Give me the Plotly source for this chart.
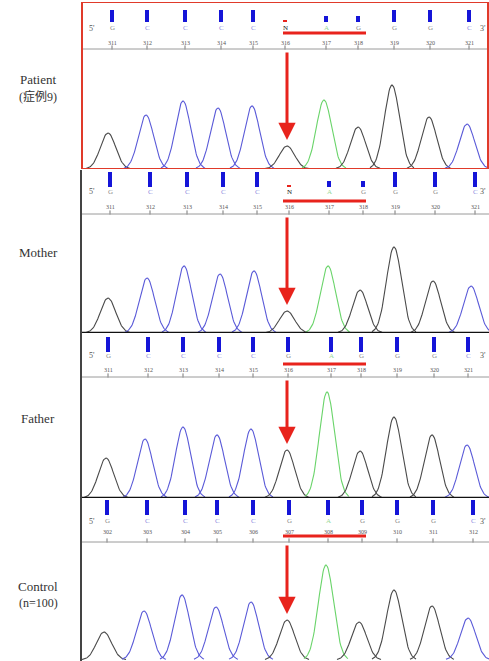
import numpy as np
import plotly.graph_objects as go

FIG_W, FIG_H = 489, 661

# ---------------- data ----------------
panel_names = ["Patient", "Mother", "Father", "Control"]
panel_subs = ["(症例9)", "", "", "(n=100)"]

# base identity of each trace peak (same region in all four samples)
peak_base = ["G", "C", "C", "C", "C", "G", "A", "G", "G", "G", "C"]

# peak scan positions per sample
peak_scan_patient = [108, 146, 183, 218, 252, 287, 324, 358, 392, 429, 467]
peak_scan_mother = [108, 147, 184, 220, 254, 287, 328, 360, 394, 433, 471]
peak_scan_father = [106, 145, 183, 217, 251, 287, 327, 360, 394, 432, 467]
peak_scan_control = [104, 144, 182, 216, 251, 287, 326, 359, 394, 432, 468]

# peak signal heights per sample
peak_h_patient = [36, 54, 68, 61, 63, 23, 69, 42, 84, 52, 45]
peak_h_mother = [35, 55, 67, 59, 62, 22, 67, 43, 86, 52, 47]
peak_h_father = [40, 59, 71, 63, 69, 48, 106, 47, 81, 63, 53]
peak_h_control = [28, 49, 65, 53, 58, 40, 95, 38, 70, 54, 42]

# base-call scan positions per sample
call_scan_patient = [112, 147, 185, 221, 253, 285, 326, 358, 394, 430, 469]
call_scan_mother = [110, 150, 187, 223, 257, 289, 329, 363, 395, 435, 475]
call_scan_father = [108, 148, 183, 219, 253, 288, 331, 361, 397, 434, 468]
call_scan_control = [107, 147, 185, 217, 253, 289, 328, 362, 397, 433, 473]

# base calls per sample
calls_patient = ["G", "C", "C", "C", "C", "N", "A", "G", "G", "G", "C"]
calls_mother = ["G", "C", "C", "C", "C", "N", "A", "G", "G", "G", "C"]
calls_father = ["G", "C", "C", "C", "C", "G", "A", "G", "G", "G", "C"]
calls_control = ["G", "C", "C", "C", "C", "G", "A", "G", "G", "G", "C"]

# quality values per call
qual_patient = [12, 12, 12, 12, 12, 2, 6, 6, 12, 12, 12]
qual_mother = [15, 15, 15, 15, 15, 2, 6, 6, 15, 15, 15]
qual_father = [15, 15, 15, 15, 15, 15, 15, 15, 15, 15, 15]
qual_control = [15, 15, 15, 15, 15, 15, 15, 15, 15, 15, 15]

# base numbering
pos_labels_patient = ["311", "312", "313", "314", "315", "316", "317", "318", "319", "320", "321"]
pos_labels_mother = ["311", "312", "313", "314", "315", "316", "317", "318", "319", "320", "321"]
pos_labels_father = ["311", "312", "313", "314", "315", "316", "317", "318", "319", "320", "321"]
pos_labels_control = ["302", "303", "304", "305", "306", "307", "308", "309", "310", "311", "312"]

mutation_index = 5            # position 316 (307 in control numbering)
deleted_span = (283, 366)     # scan span of the underlined triplet

# ---------------- styles / layout ----------------
dye_color = {"G": "#4a4a4a", "C": "#5a5ad8", "A": "#6ad46a", "T": "#e03030", "N": "#000000"}
letter_color = {"G": "#8a8a8a", "C": "#8a8ae0", "A": "#9ad89a", "T": "#e07070", "N": "#111111"}
RED = "#e8231c"

# panel pixel geometry: (top, baseline) and header offsets from top
panel_px = [(2, 169), (171, 333), (335, 498), (500, 660)]
hdr = [
    dict(bar=20, letter=26, num=41, line=47, red=31),
    dict(bar=16, letter=21, num=36, line=43, red=30),
    dict(bar=17, letter=21, num=35, line=42, red=29),
    dict(bar=15, letter=21, num=32, line=42, red=36),
]
label_y = [(80, 97), (253, None), (418, None), (586, 603)]

samples = [
    (peak_scan_patient, peak_h_patient, call_scan_patient, calls_patient, qual_patient, pos_labels_patient),
    (peak_scan_mother, peak_h_mother, call_scan_mother, calls_mother, qual_mother, pos_labels_mother),
    (peak_scan_father, peak_h_father, call_scan_father, calls_father, qual_father, pos_labels_father),
    (peak_scan_control, peak_h_control, call_scan_control, calls_control, qual_control, pos_labels_control),
]

fig = go.Figure()
annotations = []
shapes = []
SIG = 7.6
LABEL_FONT = "Liberation Serif, Noto Sans CJK JP"

for p, (pscan, ph, cscan, calls, qual, plabs) in enumerate(samples):
    top, base = panel_px[p]
    Hp = base - top
    yname = "y" if p == 0 else f"y{p+1}"
    ykey = "yaxis" if p == 0 else f"yaxis{p+1}"
    fig.layout[ykey] = dict(
        domain=[1 - base / FIG_H, 1 - top / FIG_H], range=[0, Hp],
        visible=False, fixedrange=True, anchor="x",
    )
    h = hdr[p]
    # chromatogram peaks
    for s, hh, b in zip(pscan, ph, peak_base):
        xs = np.linspace(s - 22, s + 22, 61)
        ys = hh * np.exp(-((xs - s) ** 2) / (2 * SIG ** 2))
        fig.add_trace(go.Scatter(x=xs, y=ys, mode="lines", yaxis=yname, xaxis="x",
                                 line=dict(color=dye_color[b], width=1.1),
                                 hoverinfo="skip", showlegend=False))
    # quality bars
    bar_base = Hp - h["bar"]
    bar_cols = [RED if c == "N" else "#1515d8" for c in calls]
    fig.add_trace(go.Bar(x=cscan, y=qual, base=[bar_base] * len(qual), width=4,
                         marker=dict(color=bar_cols, line=dict(width=0)),
                         yaxis=yname, xaxis="x", hoverinfo="skip", showlegend=False))
    # letters and numbers
    for cs, c, lab in zip(cscan, calls, plabs):
        annotations.append(dict(x=cs, y=Hp - h["letter"], xref="x", yref=yname, text=c,
                                showarrow=False, font=dict(size=7, color=letter_color[c], family="Liberation Serif")))
        annotations.append(dict(x=cs, y=Hp - h["num"], xref="x", yref=yname, text=lab,
                                showarrow=False, font=dict(size=6, color="#555555", family="Liberation Serif")))
    # 5' / 3'
    annotations.append(dict(x=92, y=Hp - h["letter"], xref="x", yref=yname, text="5'",
                            showarrow=False, font=dict(size=8, color="#555555", family="Liberation Serif")))
    annotations.append(dict(x=483, y=Hp - h["letter"], xref="x", yref=yname, text="3'",
                            showarrow=False, font=dict(size=8, color="#555555", family="Liberation Serif")))
    # header rule with ticks
    shapes.append(dict(type="line", xref="x", yref=yname, x0=82, x1=489,
                       y0=Hp - h["line"], y1=Hp - h["line"], line=dict(color="#9a9a9a", width=1)))
    fig.add_trace(go.Scatter(x=cscan, y=[Hp - h["line"] + 1.5] * len(cscan), mode="markers",
                             marker=dict(symbol="line-ns", size=3, line=dict(color="#777777", width=1)),
                             yaxis=yname, xaxis="x", hoverinfo="skip", showlegend=False))
    # red underline of triplet
    shapes.append(dict(type="line", xref="x", yref=yname, x0=deleted_span[0], x1=deleted_span[1],
                       y0=Hp - h["red"], y1=Hp - h["red"], line=dict(color=RED, width=3)))
    # red arrow to mutated peak
    ms = pscan[mutation_index]
    annotations.append(dict(x=ms, y=ph[mutation_index] + 6, xref="x", yref=yname,
                            ax=ms, ay=Hp - h["line"] - 2, axref="x", ayref=yname,
                            showarrow=True, arrowhead=2, arrowsize=1.15, arrowwidth=3,
                            arrowcolor=RED, text=""))
    # sample labels
    ly1, ly2 = label_y[p]
    annotations.append(dict(x=38 / FIG_W, y=1 - ly1 / FIG_H, xref="paper", yref="paper",
                            xanchor="center", yanchor="middle",
                            text=panel_names[p], showarrow=False,
                            font=dict(size=13, color="#333333", family=LABEL_FONT)))
    if ly2 is not None:
        annotations.append(dict(x=38 / FIG_W, y=1 - ly2 / FIG_H, xref="paper", yref="paper",
                                xanchor="center", yanchor="middle",
                                text=panel_subs[p], showarrow=False,
                                font=dict(size=12, color="#333333", family=LABEL_FONT)))
    # baselines
    if p in (1, 2):
        shapes.append(dict(type="line", xref="x", yref=yname, x0=82, x1=489, y0=0, y1=0,
                           line=dict(color="#111111", width=2.5)))
    if p == 0:
        shapes.append(dict(type="rect", xref="x", yref=yname, x0=82, x1=488, y0=0, y1=Hp,
                           line=dict(color="#e03a2a", width=2)))

# left frame line for lower panels
shapes.append(dict(type="line", xref="paper", yref="paper", x0=81 / FIG_W, x1=81 / FIG_W,
                   y0=0, y1=1 - 170 / FIG_H, line=dict(color="#444444", width=2)))

fig.update_layout(
    width=FIG_W, height=FIG_H,
    margin=dict(l=0, r=0, t=0, b=0),
    paper_bgcolor="white", plot_bgcolor="white",
    xaxis=dict(range=[0, FIG_W], domain=[0, 1], visible=False, fixedrange=True),
    barmode="overlay",
    annotations=annotations, shapes=shapes,
    showlegend=False,
)

fig.write_html("out.html", config={"displayModeBar": False},
               post_script="document.body.style.margin='0px';document.body.style.overflow='hidden';")
